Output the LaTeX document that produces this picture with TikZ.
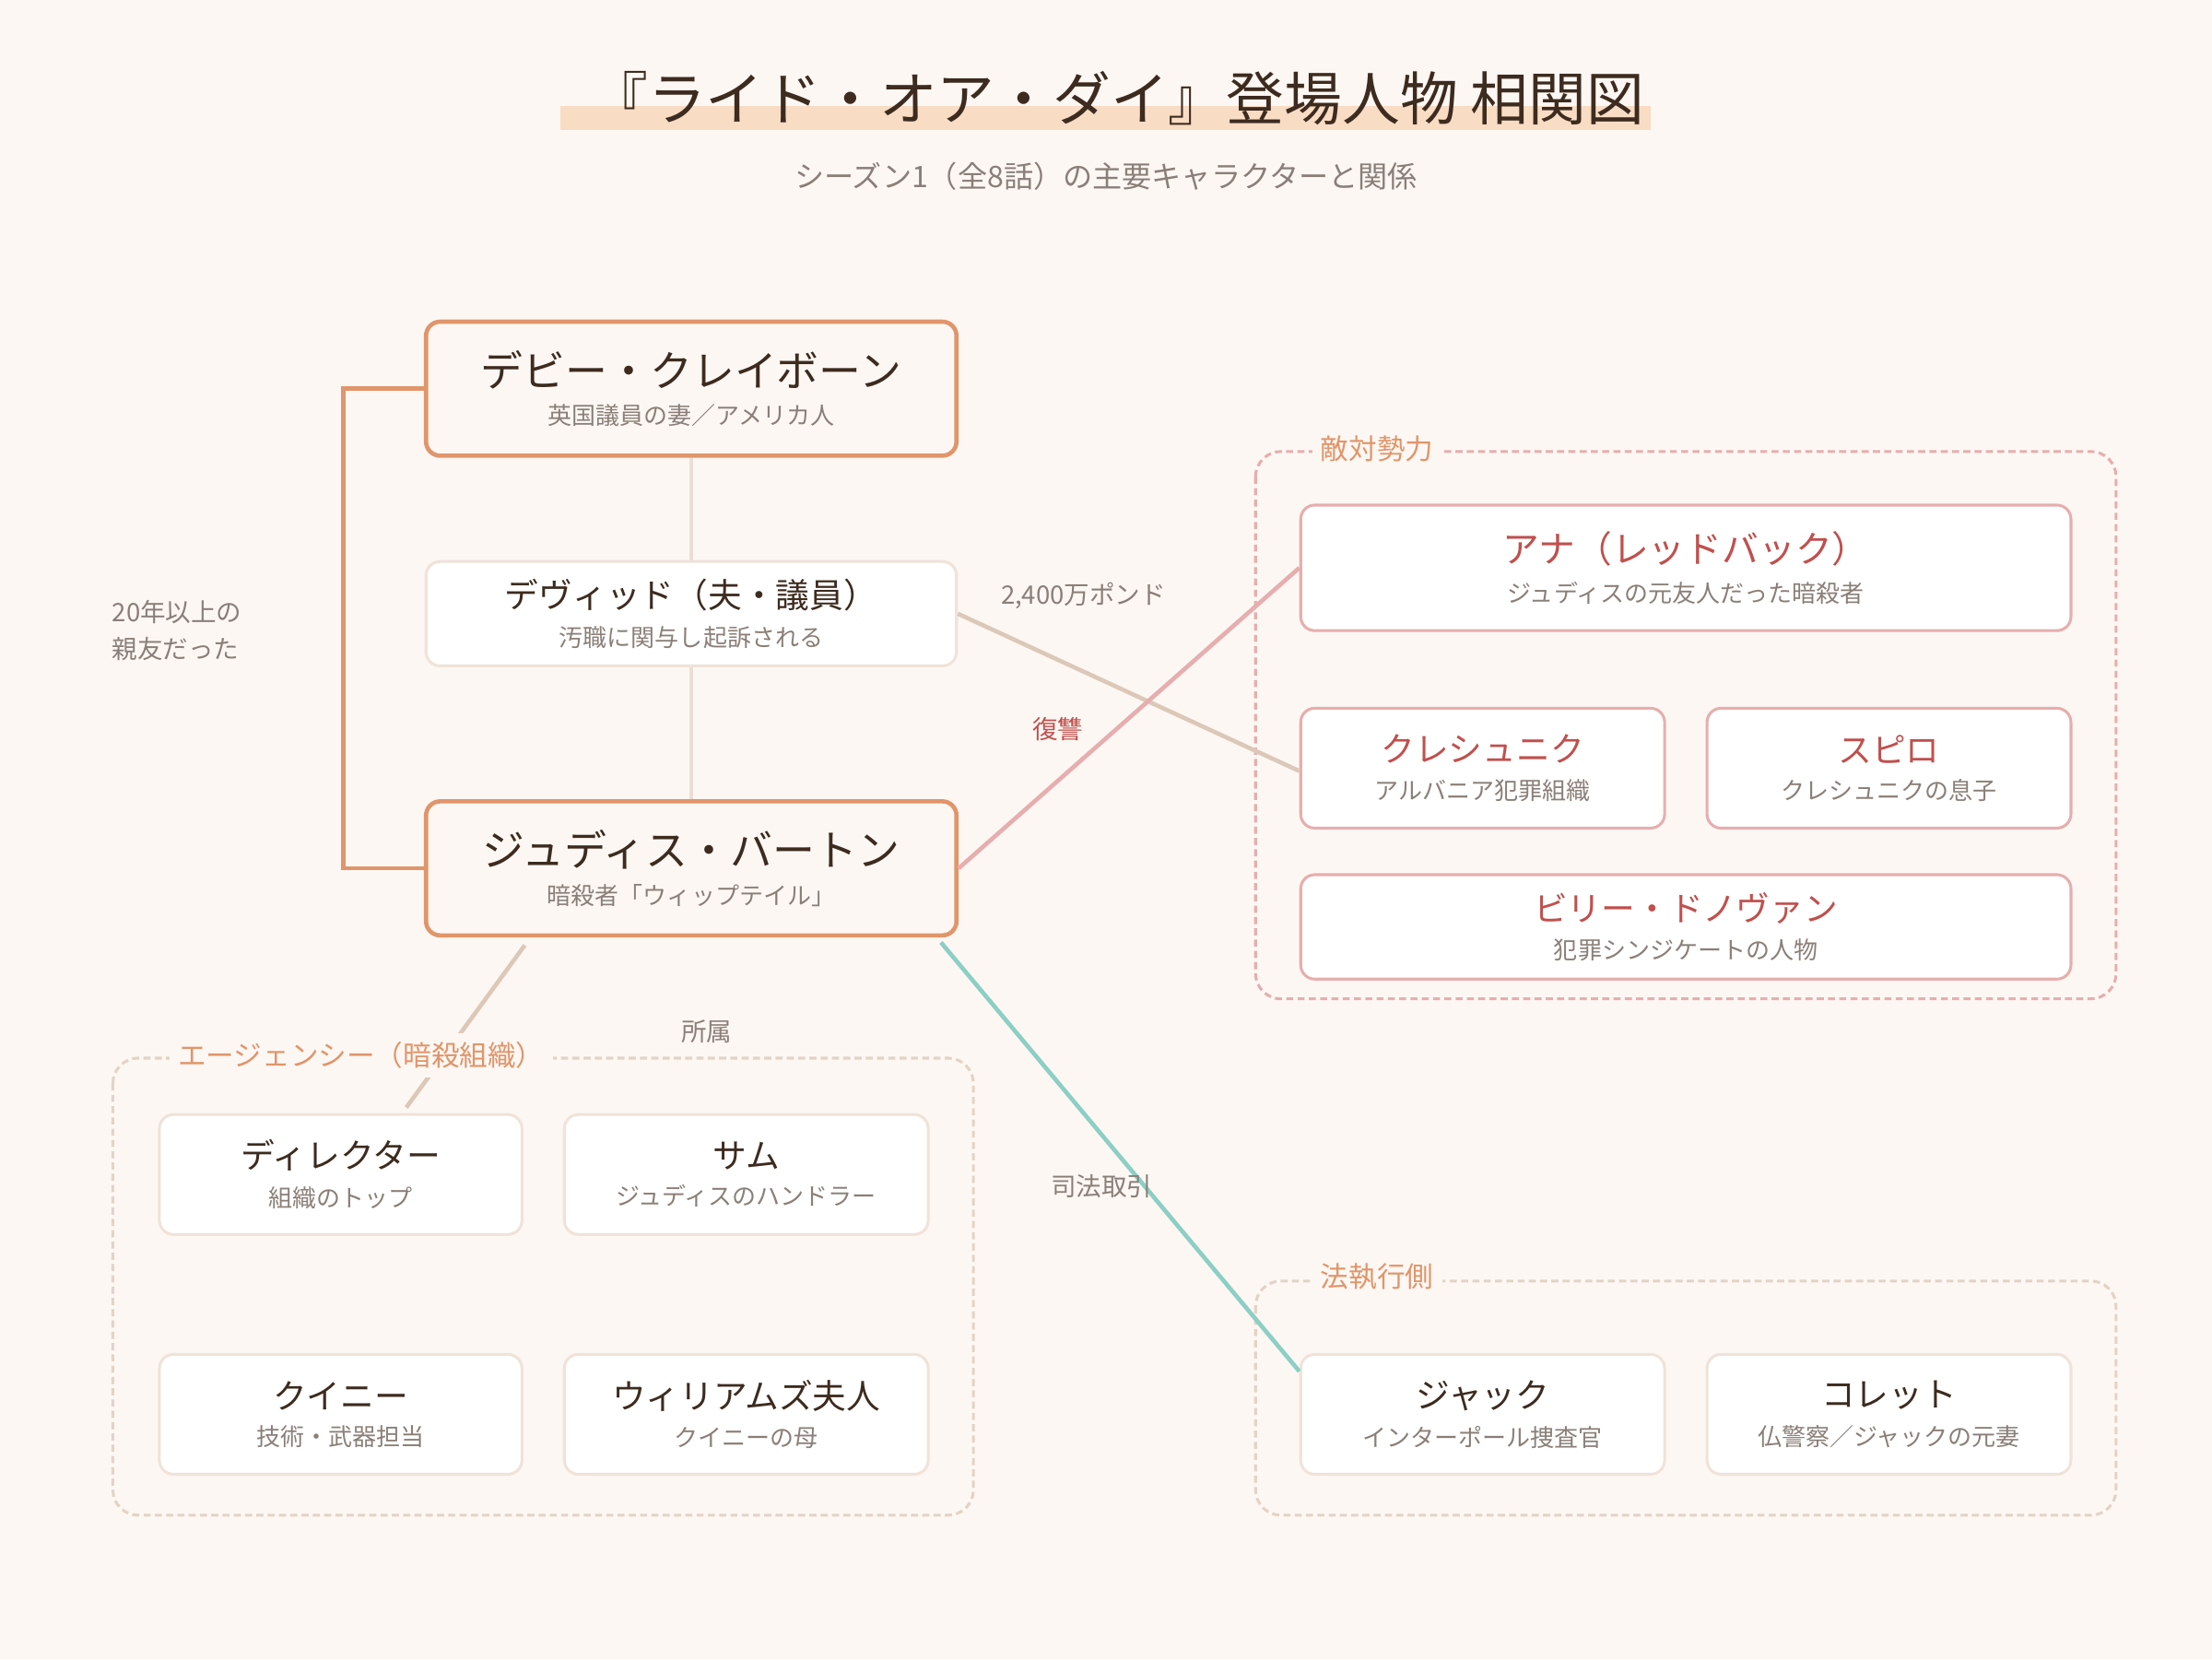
\documentclass[tikz,border=0pt]{standalone}
\usepackage{fontspec}
\setmainfont{Noto Sans CJK JP}
\usetikzlibrary{positioning,calc}
\definecolor{bg}{HTML}{FDF7F3}
\definecolor{ink}{HTML}{3D2B1F}
\definecolor{mute}{HTML}{8A7F78}
\definecolor{orng}{HTML}{E0956A}
\definecolor{peach}{HTML}{F9DCC4}
\definecolor{pinkb}{HTML}{E6AEAE}
\definecolor{redt}{HTML}{C0504D}
\definecolor{beige}{HTML}{DCC8B8}
\definecolor{lineb}{HTML}{EFE3DA}
\definecolor{teal}{HTML}{8CCFC4}
\newcommand{\persona}[3]{{\fontsize{#3}{#3}\selectfont #1}\\[10pt]{\fontsize{17}{17}\selectfont\color{mute}#2}}
\tikzset{
  box/.style={draw=lineb,line width=2pt,fill=white,rounded corners=10pt,align=center,text=ink,inner sep=0pt},
  mainbox/.style={box,draw=orng,line width=3pt,fill=orng!8},
  foebox/.style={box,draw=pinkb,text=redt},
  grp/.style={draw=#1,dash pattern=on 5pt off 3pt,line width=2pt,rounded corners=18pt},
  grplabel/.style={fill=bg,text=orng,font=\fontsize{20}{20}\selectfont,inner sep=6pt,anchor=west},
  tag/.style={text=mute,font=\fontsize{18}{18}\selectfont},
  link/.style={line width=3pt}
}
\begin{document}
\begin{tikzpicture}[x=1pt,y=-1pt]
\fill[bg] (0,0) rectangle (1568,1176);
\useasboundingbox (0,0) rectangle (1568,1176);
% title
\fill[peach] (397,75) rectangle (1170,92);
\node[text=ink,font=\fontsize{41}{41}\selectfont] (title) at (792,70) {『ライド・オア・ダイ』登場人物 相関図};
\node[text=mute,font=\fontsize{21}{21}\selectfont] (subtitle) at (784,125) {シーズン1（全8話）の主要キャラクターと関係};
% groups
\draw[grp=pinkb] (890,320) rectangle (1500,708);
\node[grplabel] (foelbl) at (930,318) {敵対勢力};
\draw[grp=beige!80] (80,750) rectangle (690,1074);
\draw[grp=beige!80] (890,908) rectangle (1500,1074);
\node[grplabel] (lawlbl) at (930,905) {法執行側};
% main characters
\node[mainbox,minimum width=376pt,minimum height=95pt] (debbie) at (490,275.5) {\persona{デビー・クレイボーン}{英国議員の妻／アメリカ人}{30}};
\node[box,minimum width=376pt,minimum height=74pt] (david) at (490,435) {\persona{デヴィッド（夫・議員）}{汚職に関与し起訴される}{24}};
\node[mainbox,minimum width=376pt,minimum height=95pt] (judith) at (490,615.5) {\persona{ジュディス・バートン}{暗殺者「ウィップテイル」}{30}};
% enemies
\node[foebox,minimum width=546pt,minimum height=89pt] (ana) at (1195,402.5) {\persona{アナ（レッドバック）}{ジュディスの元友人だった暗殺者}{26}};
\node[foebox,minimum width=258pt,minimum height=85pt] (kresh) at (1051,544.5) {\persona{クレシュニク}{アルバニア犯罪組織}{24}};
\node[foebox,minimum width=258pt,minimum height=85pt] (spiro) at (1339,544.5) {\persona{スピロ}{クレシュニクの息子}{24}};
\node[foebox,minimum width=546pt,minimum height=74pt] (billy) at (1195,657) {\persona{ビリー・ドノヴァン}{犯罪シンジケートの人物}{24}};
% agency
\node[box,minimum width=257pt,minimum height=85pt] (director) at (241.5,832.5) {\persona{ディレクター}{組織のトップ}{24}};
\node[box,minimum width=258pt,minimum height=85pt] (sam) at (529,832.5) {\persona{サム}{ジュディスのハンドラー}{24}};
\node[box,minimum width=257pt,minimum height=85pt] (quinney) at (241.5,1002.5) {\persona{クイニー}{技術・武器担当}{24}};
\node[box,minimum width=258pt,minimum height=85pt] (williams) at (529,1002.5) {\persona{ウィリアムズ夫人}{クイニーの母}{24}};
% law
\node[box,minimum width=258pt,minimum height=85pt] (jack) at (1051,1002.5) {\persona{ジャック}{インターポール捜査官}{24}};
\node[box,minimum width=258pt,minimum height=85pt] (colette) at (1339,1002.5) {\persona{コレット}{仏警察／ジャックの元妻}{24}};
% links
\draw[orng,link] (debbie.west) -- ++(-57,0) |- (judith.west);
\node[tag,align=left,anchor=west] (friends) at (76,447) {20年以上の\\[8pt]親友だった};
\draw[lineb!80!beige,line width=2.5pt] (debbie.south) -- (david.north);
\draw[lineb!80!beige,line width=2.5pt] (david.south) -- (judith.south |- judith.north);
\draw[beige,link] (david.east) -- ($(kresh.west)+(0,2)$);
\node[tag] (money) at (768,422) {2,400万ポンド};
\draw[pinkb,link] (judith.east) -- (ana.west);
\node[text=redt,font=\fontsize{18}{18}\selectfont] (revenge) at (750,517) {復讐};
\coordinate (jbl) at (372,670);
\coordinate (jbr) at (667,668);
\draw[beige,link] (jbl) -- (288,785);
\node[grplabel] (agnlbl) at (120,748) {エージェンシー（暗殺組織）};
\node[tag] (member) at (501,731) {所属};
\draw[teal,link] (jbr) -- (jack.west |- 0,972);
\node[tag] (deal) at (781,841) {司法取引};
\end{tikzpicture}
\end{document}
